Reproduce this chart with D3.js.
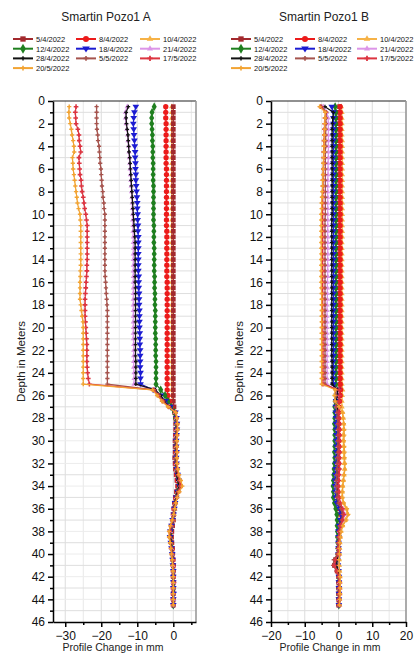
<!DOCTYPE html>
<html>
<head>
<meta charset="utf-8">
<script src="https://cdn.jsdelivr.net/npm/d3@7"></script>
<style>
  body { margin: 0; background: #fff; }
  svg { display: block; font-family: "Liberation Sans", Arial, sans-serif; }
</style>
</head>
<body>
<svg id="chart" width="416" height="653"></svg>
<script>
// depth of each reading, metres
const depths = [0.5,1,1.5,2,2.5,3,3.5,4,4.5,5, 5.5,6,6.5,7,7.5,8,8.5,9,9.5,10,
  10.5,11,11.5,12,12.5,13,13.5,14,14.5,15, 15.5,16,16.5,17,17.5,18,18.5,19,19.5,20,
  20.5,21,21.5,22,22.5,23,23.5,24,24.5,25, 25.5,26,26.5,27,27.5,28,28.5,29,29.5,30,
  30.5,31,31.5,32,32.5,33,33.5,34,34.5,35, 35.5,36,36.5,37,37.5,38,38.5,39,39.5,40,
  40.5,41,41.5,42,42.5,43,43.5,44,44.5];

const dates = ["5/4/2022","8/4/2022","10/4/2022","12/4/2022","18/4/2022","21/4/2022","28/4/2022","5/5/2022","17/5/2022","20/5/2022"];

const depthTicks = [0,2,4,6,8,10,12,14,16,18,20,22,24,26,28,30,32,34,36,38,40,42,44,46];
const xTicksA = [-30,-20,-10,0];
const xTicksB = [-20,-10,0,10,20];

// ---- Smartin Pozo1 A, profile change in mm ----
const a0504 = [0,0,0,0,0,0,0,0,0,0, 0,0,0,0,0,0,0,0,0,0, 0,0,0,0,0,0,0,0,0,0, 0,0,0,0,0,0,0,0,0,0, 0,0,0,0,0,0,0,0,0,0,
  0,0,0,0.2,0.4,0.6,0.7,0.7,0.6,0.5, 0.5,0.5,0.4,0.5,0.6,0.8,1.0,1.2,0.9,0.6, 0.4,0.2,0.1,0,-0.2,-0.4,-0.5,-0.4,-0.3,-0.2, -0.1,0,0,0,0,0,0,0,0];
const a0804 = [-2.1,-2.1,-2.1,-2.0,-2.0,-2.0,-2.0,-2.0,-2.0,-2.0, -2.0,-1.9,-1.9,-1.9,-1.9,-1.9,-1.9,-1.9,-1.9,-1.9,
  -1.9,-1.9,-1.8,-1.8,-1.8,-1.8,-1.8,-1.8,-1.8,-1.8, -1.8,-1.7,-1.7,-1.7,-1.7,-1.7,-1.7,-1.7,-1.7,-1.7,
  -1.7,-1.7,-1.7,-1.7,-1.7,-1.7,-1.7,-1.7,-1.7,-1.7, -1.7,-1.5,-1.1,-0.5,0.4,0.7,0.8,0.8,0.7,0.6,
  0.7,0.7,0.6,0.7,0.8,0.9,1.2,1.4,1.0,0.7, 0.4,0.2,0,-0.2,-0.5,-0.7,-0.7,-0.5,-0.3,-0.2, -0.1,0,0,0,0.1,0,0,0,0];
const a1004 = [-0.4,-0.4,-0.4,-0.4,-0.4,-0.4,-0.4,-0.4,-0.4,-0.4, -0.4,-0.4,-0.4,-0.4,-0.4,-0.4,-0.4,-0.4,-0.4,-0.4,
  -0.4,-0.4,-0.4,-0.4,-0.4,-0.4,-0.4,-0.4,-0.4,-0.4, -0.4,-0.4,-0.4,-0.4,-0.4,-0.4,-0.4,-0.4,-0.4,-0.4,
  -0.4,-0.4,-0.4,-0.4,-0.4,-0.4,-0.4,-0.4,-0.4,-0.4, -0.4,-0.3,-0.2,0,0.5,0.8,1.0,1.0,0.9,0.8,
  0.9,0.9,0.8,0.9,1.0,1.2,1.5,1.8,1.3,0.9, 0.6,0.4,0.2,0,-0.3,-0.6,-0.7,-0.5,-0.4,-0.3, -0.2,-0.1,0,0,0,0,0,0,0];
const a1204 = [-5.3,-5.9,-6.0,-6.0,-5.9,-5.8,-5.8,-5.7,-5.7,-5.7, -5.6,-5.6,-5.6,-5.6,-5.5,-5.5,-5.5,-5.5,-5.5,-5.5,
  -5.5,-5.4,-5.4,-5.4,-5.4,-5.3,-5.3,-5.3,-5.3,-5.3, -5.2,-5.2,-5.2,-5.1,-5.1,-5.1,-5.0,-5.0,-5.0,-5.0,
  -5.0,-4.9,-4.9,-4.9,-4.9,-4.8,-4.8,-4.8,-4.8,-4.8, -3.5,-2.3,-1.5,-0.6,0.3,0.6,0.8,0.9,0.8,0.7,
  0.7,0.8,0.7,0.8,0.9,1.1,1.4,1.6,1.1,0.8, 0.5,0.3,0.1,-0.2,-0.5,-0.7,-0.8,-0.6,-0.4,-0.3, -0.2,-0.1,0,0,0,0.1,0,0,0];
const a1804 = [-10.4,-10.8,-11.0,-11.1,-11.0,-10.9,-10.8,-10.7,-10.6,-10.6, -10.5,-10.5,-10.4,-10.4,-10.3,-10.2,-10.1,-10.0,-10.0,-9.9,
  -9.9,-9.8,-9.8,-9.7,-9.7,-9.7,-9.7,-9.7,-9.7,-9.7, -9.6,-9.6,-9.6,-9.5,-9.5,-9.5,-9.4,-9.4,-9.4,-9.4,
  -9.3,-9.3,-9.3,-9.2,-9.2,-9.2,-9.2,-9.1,-9.1,-9.1, -5.6,-3.5,-2.2,-0.8,0.6,0.9,1.0,1.0,0.9,0.8,
  0.8,0.9,0.8,0.9,1.0,1.2,1.5,1.7,1.2,0.8, 0.5,0.3,0.1,-0.2,-0.5,-0.8,-0.9,-0.7,-0.5,-0.3, -0.2,-0.1,0,0,0,0,0.1,0,0];
const a2104 = [-12.8,-13.3,-13.3,-13.1,-12.9,-12.7,-12.6,-12.4,-12.3,-12.2, -12.1,-12.0,-11.9,-11.8,-11.7,-11.6,-11.5,-11.4,-11.4,-11.3,
  -11.3,-11.2,-11.2,-11.1,-11.1,-11.1,-11.1,-11.1,-11.1,-11.1, -11.1,-11.1,-11.1,-11.1,-11.1,-11.1,-11.1,-11.1,-11.1,-11.1,
  -11.1,-11.1,-11.0,-11.0,-11.0,-11.0,-11.0,-10.9,-10.9,-10.9, -5.2,-3.8,-2.6,-1.1,0.5,0.8,0.9,0.9,0.8,0.7,
  0.8,0.8,0.7,0.8,0.9,1.1,1.4,1.7,1.1,0.8, 0.5,0.2,0,-0.3,-0.6,-0.8,-0.9,-0.7,-0.5,-0.3, -0.2,-0.1,0,0,0,0,0,0.1,0];
const a2804 = [-12.5,-13.1,-13.1,-13.0,-12.8,-12.6,-12.5,-12.4,-12.3,-12.1, -12.0,-11.9,-11.8,-11.7,-11.6,-11.5,-11.4,-11.3,-11.2,-11.1,
  -11.0,-10.9,-10.8,-10.7,-10.6,-10.6,-10.6,-10.6,-10.6,-10.6, -10.6,-10.6,-10.5,-10.5,-10.5,-10.5,-10.5,-10.5,-10.5,-10.5,
  -10.5,-10.5,-10.5,-10.5,-10.5,-10.4,-10.4,-10.4,-10.4,-10.4, -5.0,-3.5,-2.5,-1.0,0.5,0.8,0.9,0.9,0.8,0.7,
  0.7,0.8,0.7,0.8,0.9,1.0,1.3,1.6,1.1,0.8, 0.4,0.2,0,-0.3,-0.6,-0.8,-0.8,-0.6,-0.5,-0.3, -0.2,-0.1,0,0,0,0,0,0,0];
const a0505 = [-21.3,-21.3,-21.3,-21.3,-21.2,-21.0,-20.9,-20.6,-20.5,-20.4, -20.3,-20.1,-20.0,-19.9,-19.8,-19.6,-19.5,-19.3,-19.2,-19.0,
  -19.0,-19.0,-19.0,-19.0,-19.0,-19.0,-19.0,-19.0,-19.0,-19.0, -18.9,-18.8,-18.7,-18.6,-18.5,-18.4,-18.3,-18.3,-18.3,-18.3,
  -18.3,-18.3,-18.3,-18.3,-18.3,-18.3,-18.3,-18.3,-18.3,-18.3, -5.3,-4.0,-2.8,-1.2,0.5,0.9,1.0,1.0,0.9,0.8,
  0.8,0.9,0.8,0.9,1.0,1.2,1.6,1.9,1.3,0.9, 0.6,0.3,0.1,-0.2,-0.6,-0.9,-1.0,-0.8,-0.5,-0.3, -0.2,-0.1,0,0,0,0,0,0,0];
const a1705 = [-27.0,-27.2,-27.1,-27.0,-26.5,-26.2,-26.1,-25.9,-25.7,-26.2, -26.1,-26.0,-25.9,-25.6,-25.5,-25.3,-25.0,-24.8,-24.6,-24.3,
  -24.1,-23.9,-23.9,-23.9,-23.9,-23.9,-23.9,-23.9,-24.0,-24.0, -24.1,-24.2,-24.3,-24.4,-24.5,-24.5,-24.5,-24.5,-24.4,-24.3,
  -24.2,-24.1,-24.0,-24.0,-24.0,-24.0,-23.9,-23.8,-23.6,-23.3, -5.5,-4.2,-3.0,-1.3,0.6,0.9,1.1,1.1,1.0,0.9,
  0.9,1.0,0.9,1.0,1.1,1.4,1.8,2.1,1.5,1.0, 0.6,0.3,0.1,-0.2,-0.6,-1.0,-1.0,-0.8,-0.6,-0.4, -0.2,-0.1,0,0.1,0,0,0,0,0];
const a2005 = [-28.9,-29.0,-28.9,-28.6,-28.3,-28.1,-27.8,-27.6,-27.5,-28.0, -27.9,-27.8,-27.6,-27.4,-27.2,-27.0,-26.8,-26.6,-26.3,-25.9,
  -25.8,-25.7,-25.7,-25.7,-25.7,-25.7,-25.7,-25.7,-25.7,-25.8, -25.8,-25.9,-25.9,-25.9,-25.9,-25.7,-25.5,-25.3,-25.1,-25.0,
  -25.0,-25.0,-25.0,-25.0,-25.0,-25.0,-25.0,-25.0,-25.0,-25.0, -5.8,-4.5,-3.2,-1.5,0.7,1.0,1.2,1.2,1.1,1.0,
  1.0,1.1,1.0,1.1,1.3,1.6,2.1,2.5,1.7,1.1, 0.7,0.4,0.1,-0.3,-0.8,-1.2,-1.2,-0.9,-0.7,-0.5, -0.3,-0.2,-0.1,0,0,0,0,0,0];

// ---- Smartin Pozo1 B, profile change in mm ----
const b0504 = [0.3,0.2,0.2,0.2,0.2,0.2,0.2,0.2,0.2,0.2, 0.2,0.2,0.2,0.2,0.2,0.2,0.2,0.2,0.2,0.2,
  0.2,0.2,0.2,0.2,0.2,0.2,0.2,0.2,0.2,0.2, 0.2,0.2,0.2,0.2,0.2,0.2,0.2,0.2,0.2,0.2,
  0.2,0.2,0.2,0.2,0.2,0.2,0.3,0.3,0.3,0.4, 0.4,0.3,0.0,-0.3,-0.4,-0.4,-0.3,-0.3,-0.2,-0.2,
  -0.2,-0.2,-0.3,-0.3,-0.4,-0.5,-0.6,-0.7,-0.6,-0.4, -0.2,0.2,0.6,0.6,0.3,0,0,0,0,0, -0.8,-1.2,-0.4,0,0,0,0,0,0];
const b0804 = [0.5,0.5,0.5,0.5,0.5,0.5,0.5,0.5,0.5,0.5, 0.5,0.5,0.5,0.5,0.5,0.5,0.5,0.5,0.5,0.5,
  0.5,0.5,0.5,0.5,0.5,0.5,0.5,0.5,0.5,0.5, 0.5,0.5,0.5,0.5,0.5,0.5,0.5,0.5,0.5,0.5,
  0.5,0.5,0.5,0.5,0.5,0.5,0.5,0.5,0.5,0.5, 0.6,0.5,0.3,0.1,0,0,0.1,0.1,0.1,0.1,
  0.1,0.1,0,0,-0.1,-0.2,-0.3,-0.3,-0.2,-0.1, 0.1,0.5,0.9,0.8,0.4,0.2,0.1,0,0,0, -0.6,-1.0,-0.3,0.1,0.2,0.2,0.2,0.1,0.1];
const b1004 = [0.8,1.0,1.0,1.0,1.0,1.0,1.1,1.1,1.1,1.1, 1.1,1.1,1.1,1.1,1.1,1.1,1.1,1.1,1.1,1.1,
  1.1,1.1,1.1,1.1,1.0,1.0,1.0,1.0,1.0,1.0, 1.0,1.0,1.0,1.0,1.0,1.0,1.0,1.0,1.0,1.0,
  1.0,1.0,1.0,1.0,1.0,1.0,1.0,1.0,1.0,1.0, 1.2,1.1,1.0,1.0,1.2,1.4,1.5,1.5,1.4,1.4,
  1.5,1.5,1.6,1.7,1.8,1.6,1.4,1.2,1.1,1.0, 1.4,2.2,2.6,2.0,1.2,0.7,0.5,0.4,0.3,0.3, 0.2,0.2,0.3,0.4,0.4,0.4,0.4,0.3,0.3];
const b1204 = [-1.0,-0.8,-0.8,-0.8,-0.8,-0.8,-0.8,-0.8,-0.8,-0.8, -0.8,-0.8,-0.8,-0.8,-0.8,-0.8,-0.8,-0.8,-0.8,-0.8,
  -0.8,-0.8,-0.8,-0.8,-0.8,-0.8,-0.8,-0.8,-0.8,-0.8, -0.8,-0.8,-0.8,-0.8,-0.8,-0.8,-0.8,-0.8,-0.8,-0.8,
  -0.8,-0.8,-0.8,-0.8,-0.8,-0.8,-0.8,-0.8,-0.8,-0.8, -0.5,-0.8,-1.0,-1.1,-1.1,-1.1,-1.2,-1.1,-1.1,-1.1,
  -1.1,-1.2,-1.1,-1.2,-1.3,-1.4,-1.5,-1.6,-1.5,-1.5, -1.2,-0.8,-0.5,-0.4,-0.4,-0.3,-0.3,-0.2,-0.2,-0.2, -0.5,-0.3,-0.1,0,0.1,0.1,0.1,0.1,0.1];
const b1804 = [-2.0,-1.5,-1.5,-1.5,-1.5,-1.5,-1.5,-1.5,-1.5,-1.5, -1.5,-1.5,-1.5,-1.5,-1.5,-1.5,-1.5,-1.5,-1.5,-1.5,
  -1.5,-1.5,-1.5,-1.5,-1.5,-1.5,-1.5,-1.5,-1.5,-1.5, -1.5,-1.5,-1.5,-1.5,-1.5,-1.5,-1.5,-1.5,-1.5,-1.5,
  -1.5,-1.5,-1.5,-1.5,-1.5,-1.5,-1.5,-1.5,-1.5,-1.5, -0.3,-0.5,-0.7,-0.8,-0.8,-0.7,-0.7,-0.6,-0.6,-0.6,
  -0.6,-0.6,-0.6,-0.7,-0.8,-0.9,-1.0,-1.0,-0.9,-0.8, -0.5,0.3,0.8,0.6,0.2,0,0,0,0,0, -0.3,-0.2,0,0.1,0.1,0.1,0.1,0.1,0.1];
const b2104 = [-4.5,-3.5,-3.1,-3.0,-3.0,-3.0,-3.0,-3.0,-3.0,-3.0, -3.1,-3.1,-3.1,-3.2,-3.2,-3.2,-3.2,-3.2,-3.2,-3.2,
  -3.2,-3.2,-3.2,-3.2,-3.2,-3.2,-3.2,-3.2,-3.2,-3.2, -3.2,-3.3,-3.3,-3.3,-3.3,-3.4,-3.4,-3.4,-3.4,-3.4,
  -3.4,-3.4,-3.4,-3.4,-3.4,-3.4,-3.4,-3.4,-3.4,-3.4, -0.6,-0.6,-0.8,-0.5,-0.3,-0.3,-0.2,-0.2,-0.2,-0.2,
  -0.2,-0.2,-0.3,-0.3,-0.4,-0.5,-0.6,-0.7,-0.6,-0.4, 0.2,1.3,1.9,1.4,0.6,0.3,0.1,0,0,0, -0.3,-0.2,0,0.1,0.2,0.2,0.2,0.1,0.1];
const b2804 = [-4.0,-1.5,-1.7,-1.8,-1.9,-1.9,-1.9,-1.9,-1.9,-1.9, -1.9,-1.9,-1.9,-1.9,-1.9,-1.9,-1.9,-1.9,-1.9,-1.9,
  -2.0,-2.0,-2.0,-2.0,-2.0,-2.0,-2.0,-2.0,-2.0,-2.0, -2.0,-2.0,-2.0,-2.0,-2.0,-2.0,-2.0,-2.0,-2.0,-2.0,
  -2.0,-2.0,-2.0,-2.0,-2.0,-1.9,-1.9,-1.9,-1.9,-1.9, -0.3,-0.4,-0.6,-0.4,-0.3,-0.3,-0.2,-0.2,-0.2,-0.2,
  -0.2,-0.3,-0.3,-0.3,-0.4,-0.5,-0.6,-0.6,-0.5,-0.4, 0,0.8,1.3,1.0,0.4,0.1,0,0,0,0, -0.4,-0.5,-0.1,0,0.1,0.1,0.1,0.1,0];
const b0505 = [-5.0,-3.6,-3.7,-3.7,-3.8,-3.8,-3.8,-3.8,-3.9,-3.9, -3.9,-3.9,-3.9,-3.9,-3.9,-3.9,-3.9,-3.9,-3.9,-3.9,
  -4.0,-4.0,-4.0,-4.0,-4.0,-4.0,-4.0,-4.0,-4.0,-4.0, -4.0,-4.0,-4.0,-4.0,-4.0,-4.0,-4.0,-4.0,-4.0,-4.0,
  -4.0,-4.0,-4.0,-4.0,-4.0,-4.0,-4.0,-4.0,-4.0,-4.0, -0.8,-0.8,-1.0,-0.7,-0.4,-0.3,-0.2,-0.2,-0.2,-0.2,
  -0.2,-0.2,-0.3,-0.3,-0.4,-0.5,-0.6,-0.6,-0.5,-0.4, 0,0.7,1.2,1.0,0.4,0.1,0,-0.1,-0.2,-0.4, -1.4,-1.6,-0.6,0,0.1,0.1,0.1,0,0];
const b1705 = [-5.3,-3.8,-4.0,-4.1,-4.2,-4.2,-4.3,-4.3,-4.4,-4.4, -4.4,-4.5,-4.5,-4.6,-4.6,-4.6,-4.7,-4.7,-4.7,-4.7,
  -4.7,-4.7,-4.7,-4.7,-4.7,-4.7,-4.7,-4.7,-4.7,-4.7, -4.7,-4.7,-4.7,-4.7,-4.7,-4.7,-4.7,-4.7,-4.7,-4.7,
  -4.6,-4.6,-4.6,-4.6,-4.6,-4.6,-4.6,-4.6,-4.6,-4.6, 0.2,0.3,0.2,0.1,0.1,0.2,0.3,0.3,0.3,0.3,
  0.3,0.3,0.3,0.3,0.3,0.2,0.1,0,0.1,0.2, 0.6,1.2,1.6,1.2,0.6,0.3,0.2,0.1,0,0, -0.9,-1.2,-0.4,0.1,0.2,0.2,0.2,0.2,0.1];
const b2005 = [-5.6,-3.9,-4.0,-4.1,-4.1,-4.2,-4.2,-4.3,-4.3,-4.4, -4.5,-4.5,-4.6,-4.7,-4.7,-4.8,-4.9,-5.0,-5.0,-5.1,
  -5.1,-5.1,-5.1,-5.1,-5.1,-5.1,-5.1,-5.1,-5.1,-5.1, -5.1,-5.1,-5.1,-5.0,-5.0,-5.0,-5.0,-5.0,-5.0,-5.0,
  -5.0,-5.0,-5.0,-5.0,-5.0,-5.0,-5.0,-5.0,-5.0,-5.0, -1.0,-1.2,-1.0,0.2,1.2,1.4,1.6,1.7,1.7,1.6,
  1.7,1.8,1.8,1.9,1.9,1.7,1.5,1.3,1.2,1.2, 1.6,2.5,2.9,2.3,1.3,0.8,0.6,0.4,0.3,0.3, 0.2,0.2,0.3,0.5,0.5,0.5,0.5,0.4,0.3];

const seriesA = [a0504, a0804, a1004, a1204, a1804, a2104, a2804, a0505, a1705, a2005];
const seriesB = [b0504, b0804, b1004, b1204, b1804, b2104, b2804, b0505, b1705, b2005];

// styles, in the order of dates
const colors = ["#a2292d","#ec1b1b","#f6b246","#1f7f1f","#1b1bd2","#dc95e8","#111111","#a5534d","#dc3440","#f2a332"];
const triDown = { draw(ctx, size) { const h = Math.sqrt(size) * 0.9; ctx.moveTo(-h, -h*0.6); ctx.lineTo(h, -h*0.6); ctx.lineTo(0, h); ctx.closePath(); } };
const marks = [
  {type: d3.symbolSquare, size: 22},
  {type: d3.symbolCircle, size: 22},
  {type: d3.symbolTriangle, size: 14},
  {type: d3.symbolDiamond, size: 22},
  {type: triDown, size: 14},
  {type: d3.symbolTriangle, size: 12},
  {type: d3.symbolCross, size: 8},
  {type: d3.symbolCross, size: 10},
  {type: d3.symbolCross, size: 12},
  {type: d3.symbolCross, size: 10}
];
// draw 10/4 first so it sits under the baseline
const drawOrder = [2,0,1,3,4,5,6,7,8,9];

const svg = d3.select("#chart");
svg.append("rect").attr("width", 416).attr("height", 653).attr("fill", "#fff");

function drawPanel(p) {
  const x = d3.scaleLinear().domain(p.xDomain).range([p.left, p.right]);
  const y = d3.scaleLinear().domain([0, 46]).range([101, 622]);
  const g = svg.append("g");

  // grid
  const gx = d3.range(Math.ceil(p.xDomain[0] / 5) * 5, p.xDomain[1] + 0.01, 5);
  g.selectAll(".vg").data(gx).enter().append("line")
    .attr("x1", d => x(d)).attr("x2", d => x(d))
    .attr("y1", y(0)).attr("y2", y(46))
    .attr("stroke", d => d % 10 === 0 ? "#dcdcdc" : "#e8e8e8").attr("stroke-width", 1);
  g.selectAll(".hg").data(d3.range(1, 46)).enter().append("line")
    .attr("x1", p.left).attr("x2", p.right)
    .attr("y1", d => y(d)).attr("y2", d => y(d))
    .attr("stroke", d => d % 2 ? "#dedede" : "#ececec").attr("stroke-width", 1);

  // frame top and right
  g.append("line").attr("x1", p.left).attr("x2", p.right).attr("y1", y(0)).attr("y2", y(0))
    .attr("stroke", "#222").attr("stroke-width", 1.2);
  g.append("line").attr("x1", p.right).attr("x2", p.right).attr("y1", y(0)).attr("y2", y(46))
    .attr("stroke", "#9a9a9a").attr("stroke-width", 1.6);

  // series
  const line = d3.line().x(d => x(d[1])).y(d => y(d[0]));
  drawOrder.forEach(k => {
    const pts = depths.map((d, i) => [d, p.series[k][i]]);
    const s = g.append("g");
    s.append("path").attr("d", line(pts)).attr("fill", "none")
      .attr("stroke", colors[k]).attr("stroke-width", 1.2);
    s.selectAll("path.m").data(pts).enter().append("path").attr("class", "m")
      .attr("transform", d => `translate(${x(d[1])},${y(d[0])})`)
      .attr("d", d3.symbol(marks[k].type, marks[k].size))
      .attr("fill", colors[k]);
  });

  // axes
  g.append("g").attr("transform", `translate(${p.left},0)`)
    .call(d3.axisLeft(y).tickValues(depthTicks).tickSize(5).tickSizeOuter(0).tickPadding(3));
  g.append("g").attr("transform", `translate(${p.left},0)`)
    .call(d3.axisLeft(y).tickValues(d3.range(1, 46, 2)).tickSize(3).tickFormat(""))
    .select(".domain").remove();
  g.append("g").attr("transform", `translate(0,${y(46)})`)
    .call(d3.axisBottom(x).tickValues(p.xTicks).tickSize(5).tickSizeOuter(0).tickPadding(4));
  g.append("g").attr("transform", `translate(0,${y(46)})`)
    .call(d3.axisBottom(x).tickValues(p.minor).tickSize(3).tickFormat(""))
    .select(".domain").remove();
  g.selectAll(".domain, .tick line").attr("stroke", "#000").attr("stroke-width", 1.5);
  g.selectAll(".tick text").attr("font-size", 12).attr("fill", "#111")
    .attr("font-family", "'Liberation Sans', Arial, sans-serif");

  // labels
  svg.append("text").attr("x", p.titleX).attr("y", 21).attr("text-anchor", "middle")
    .attr("font-size", 12).attr("fill", "#222").text(p.title);
  svg.append("text").attr("transform", `translate(${p.left - 28},${y(23)}) rotate(-90)`)
    .attr("text-anchor", "middle").attr("font-size", 11.5).attr("fill", "#222").text("Depth in Meters");
  svg.append("text").attr("x", p.xLabelX).attr("y", 651).attr("text-anchor", "middle")
    .attr("font-size", 10.5).attr("fill", "#222").text("Profile Change in mm");

  // legend
  const lg = svg.append("g");
  dates.forEach((dt, k) => {
    const col = k % 3, row = Math.floor(k / 3);
    const lx = p.legendX[col], ly = 39 + row * 9.7;
    lg.append("line").attr("x1", lx).attr("x2", lx + 20).attr("y1", ly).attr("y2", ly)
      .attr("stroke", colors[k]).attr("stroke-width", 2);
    lg.append("path").attr("transform", `translate(${lx + 10},${ly})`)
      .attr("d", d3.symbol(marks[k].type, marks[k].size * 1.3)).attr("fill", colors[k]);
    lg.append("text").attr("x", lx + 23).attr("y", ly + 3).attr("font-size", 7.5)
      .attr("fill", "#111").text(dt);
  });
}

drawPanel({
  title: "Smartin Pozo1 A", titleX: 106, xLabelX: 113,
  left: 53, right: 196, xDomain: [-33.4, 6.3],
  xTicks: xTicksA, minor: [-25, -15, -5, 5],
  series: seriesA, legendX: [13, 76, 140]
});
drawPanel({
  title: "Smartin Pozo1 B", titleX: 324, xLabelX: 330,
  left: 271, right: 406, xDomain: [-20, 20],
  xTicks: xTicksB, minor: [-15, -5, 5, 15],
  series: seriesB, legendX: [231, 295, 357]
});
</script>
</body>
</html>
